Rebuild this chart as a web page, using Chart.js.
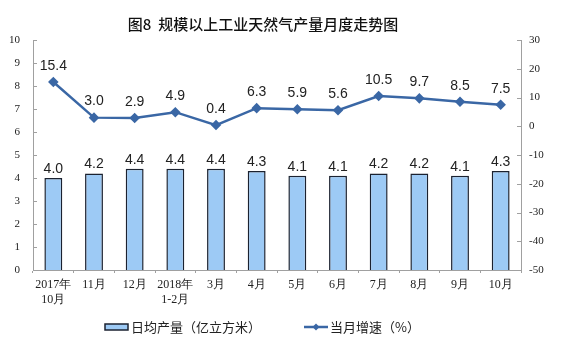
<!DOCTYPE html>
<html><head><meta charset="utf-8">
<script src="https://cdn.jsdelivr.net/npm/chart.js@4/dist/chart.umd.min.js"></script>
<style>html,body{margin:0;padding:0;background:#fff;}#wrap{width:564px;height:357px;}</style>
</head><body><div id="wrap"><canvas id="c" width="564" height="357"></canvas></div>
<script>
const categories = [["2017年","10月"],"11月","12月",["2018年","1-2月"],"3月","4月","5月","6月","7月","8月","9月","10月"];
const dailyOutput = [4.0,4.2,4.4,4.4,4.4,4.3,4.1,4.1,4.2,4.2,4.1,4.3];
const monthlyGrowth = [15.4,3.0,2.9,4.9,0.4,6.3,5.9,5.6,10.5,9.7,8.5,7.5];
const leftTicks = [0,1,2,3,4,5,6,7,8,9,10];
const rightTicks = [-50,-40,-30,-20,-10,0,10,20,30];
const titleText = "图8  规模以上工业天然气产量月度走势图";
const barLabel = "日均产量（亿立方米）";
const lineLabel = "当月增速（%）";

const BAR_FILL = "#9dcaf5", BAR_BORDER = "#1b2230", LINE_COLOR = "#3a67a5";
const CJK = "'Noto Sans CJK SC', sans-serif";
const SERIF = "'Liberation Serif', 'DejaVu Serif', serif";

const extras = {
  id: 'extras',
  afterDraw(chart) {
    const ctx = chart.ctx;
    const area = chart.chartArea;
    ctx.save();
    // title
    ctx.fillStyle = "#111";
    ctx.font = "500 15px " + CJK;
    ctx.textAlign = "center"; ctx.textBaseline = "middle";
    ctx.fillText(titleText, 263, 24);
    // inner ticks on y axes
    ctx.strokeStyle = "#a0a0a0"; ctx.lineWidth = 1;
    const yL = chart.scales.y, yR = chart.scales.y1;
    yL.ticks.forEach(t => { const p = Math.round(yL.getPixelForValue(t.value)) + 0.5; ctx.beginPath(); ctx.moveTo(area.left, p); ctx.lineTo(area.left + 4, p); ctx.stroke(); });
    yR.ticks.forEach(t => { const p = Math.round(yR.getPixelForValue(t.value)) + 0.5; ctx.beginPath(); ctx.moveTo(area.right, p); ctx.lineTo(area.right - 4, p); ctx.stroke(); });
    // data labels
    ctx.fillStyle = "#222";
    ctx.font = "14px 'Liberation Sans', Arial, sans-serif";
    ctx.textAlign = "center"; ctx.textBaseline = "middle";
    chart.getDatasetMeta(0).data.forEach((el, i) => { ctx.fillText(dailyOutput[i].toFixed(1), el.x, el.y - 9); });
    chart.getDatasetMeta(1).data.forEach((el, i) => { ctx.fillText(monthlyGrowth[i].toFixed(1), el.x, el.y - 16); });
    // legend
    const ly = 327;
    ctx.fillStyle = BAR_FILL; ctx.strokeStyle = BAR_BORDER; ctx.lineWidth = 1.5;
    ctx.fillRect(105, ly - 3, 23, 6); ctx.strokeRect(105, ly - 3, 23, 6);
    ctx.fillStyle = "#222"; ctx.font = "13px " + CJK; ctx.textAlign = "left";
    ctx.fillText(barLabel, 131, ly);
    ctx.strokeStyle = LINE_COLOR; ctx.lineWidth = 2.5;
    ctx.beginPath(); ctx.moveTo(304, ly); ctx.lineTo(328, ly); ctx.stroke();
    ctx.fillStyle = LINE_COLOR; ctx.beginPath();
    ctx.moveTo(316, ly - 3.5); ctx.lineTo(319.5, ly); ctx.lineTo(316, ly + 3.5); ctx.lineTo(312.5, ly); ctx.closePath(); ctx.fill();
    ctx.fillStyle = "#222";
    ctx.fillText(lineLabel, 330, ly);
    ctx.restore();
  }
};

new Chart(document.getElementById('c'), {
  data: {
    labels: categories,
    datasets: [
      { type: 'bar', label: barLabel, data: dailyOutput, yAxisID: 'y', backgroundColor: BAR_FILL, borderColor: BAR_BORDER, borderWidth: 1.5, categoryPercentage: 1, barPercentage: 0.44, order: 2 },
      { type: 'line', label: lineLabel, data: monthlyGrowth, yAxisID: 'y1', borderColor: LINE_COLOR, backgroundColor: LINE_COLOR, borderWidth: 2.5, pointStyle: 'rectRot', pointRadius: 3.5, pointHoverRadius: 3.5, tension: 0, order: 1 }
    ]
  },
  options: {
    responsive: false, animation: false, devicePixelRatio: 1,
    layout: { padding: { top: 40, bottom: 0, left: 0, right: 0 } },
    plugins: { legend: { display: false }, title: { display: false }, tooltip: { enabled: false } },
    scales: {
      x: {
        offset: true,
        grid: { display: true, drawOnChartArea: false, offset: true, tickLength: 3, color: "#a0a0a0" },
        border: { display: true, color: "#a0a0a0" },
        ticks: { color: "#222", font: { family: SERIF, size: 12 }, maxRotation: 0, autoSkip: false, padding: 5 },
        afterFit(s) { s.height = 87; }
      },
      y: {
        position: 'left', min: 0, max: 10,
        afterBuildTicks(s) { s.ticks = leftTicks.map(v => ({ value: v })); },
        grid: { display: false, drawTicks: false },
        border: { display: true, color: "#a0a0a0" },
        ticks: { color: "#222", font: { family: SERIF, size: 11 }, padding: 13 },
        afterFit(s) { s.width = 33; }
      },
      y1: {
        position: 'right', min: -50, max: 30,
        afterBuildTicks(s) { s.ticks = rightTicks.map(v => ({ value: v })); },
        grid: { display: false, drawTicks: false },
        border: { display: true, color: "#a0a0a0" },
        ticks: { color: "#222", font: { family: SERIF, size: 11 }, padding: 8 },
        afterFit(s) { s.width = 43; }
      }
    }
  },
  plugins: [extras]
});
</script></body></html>
